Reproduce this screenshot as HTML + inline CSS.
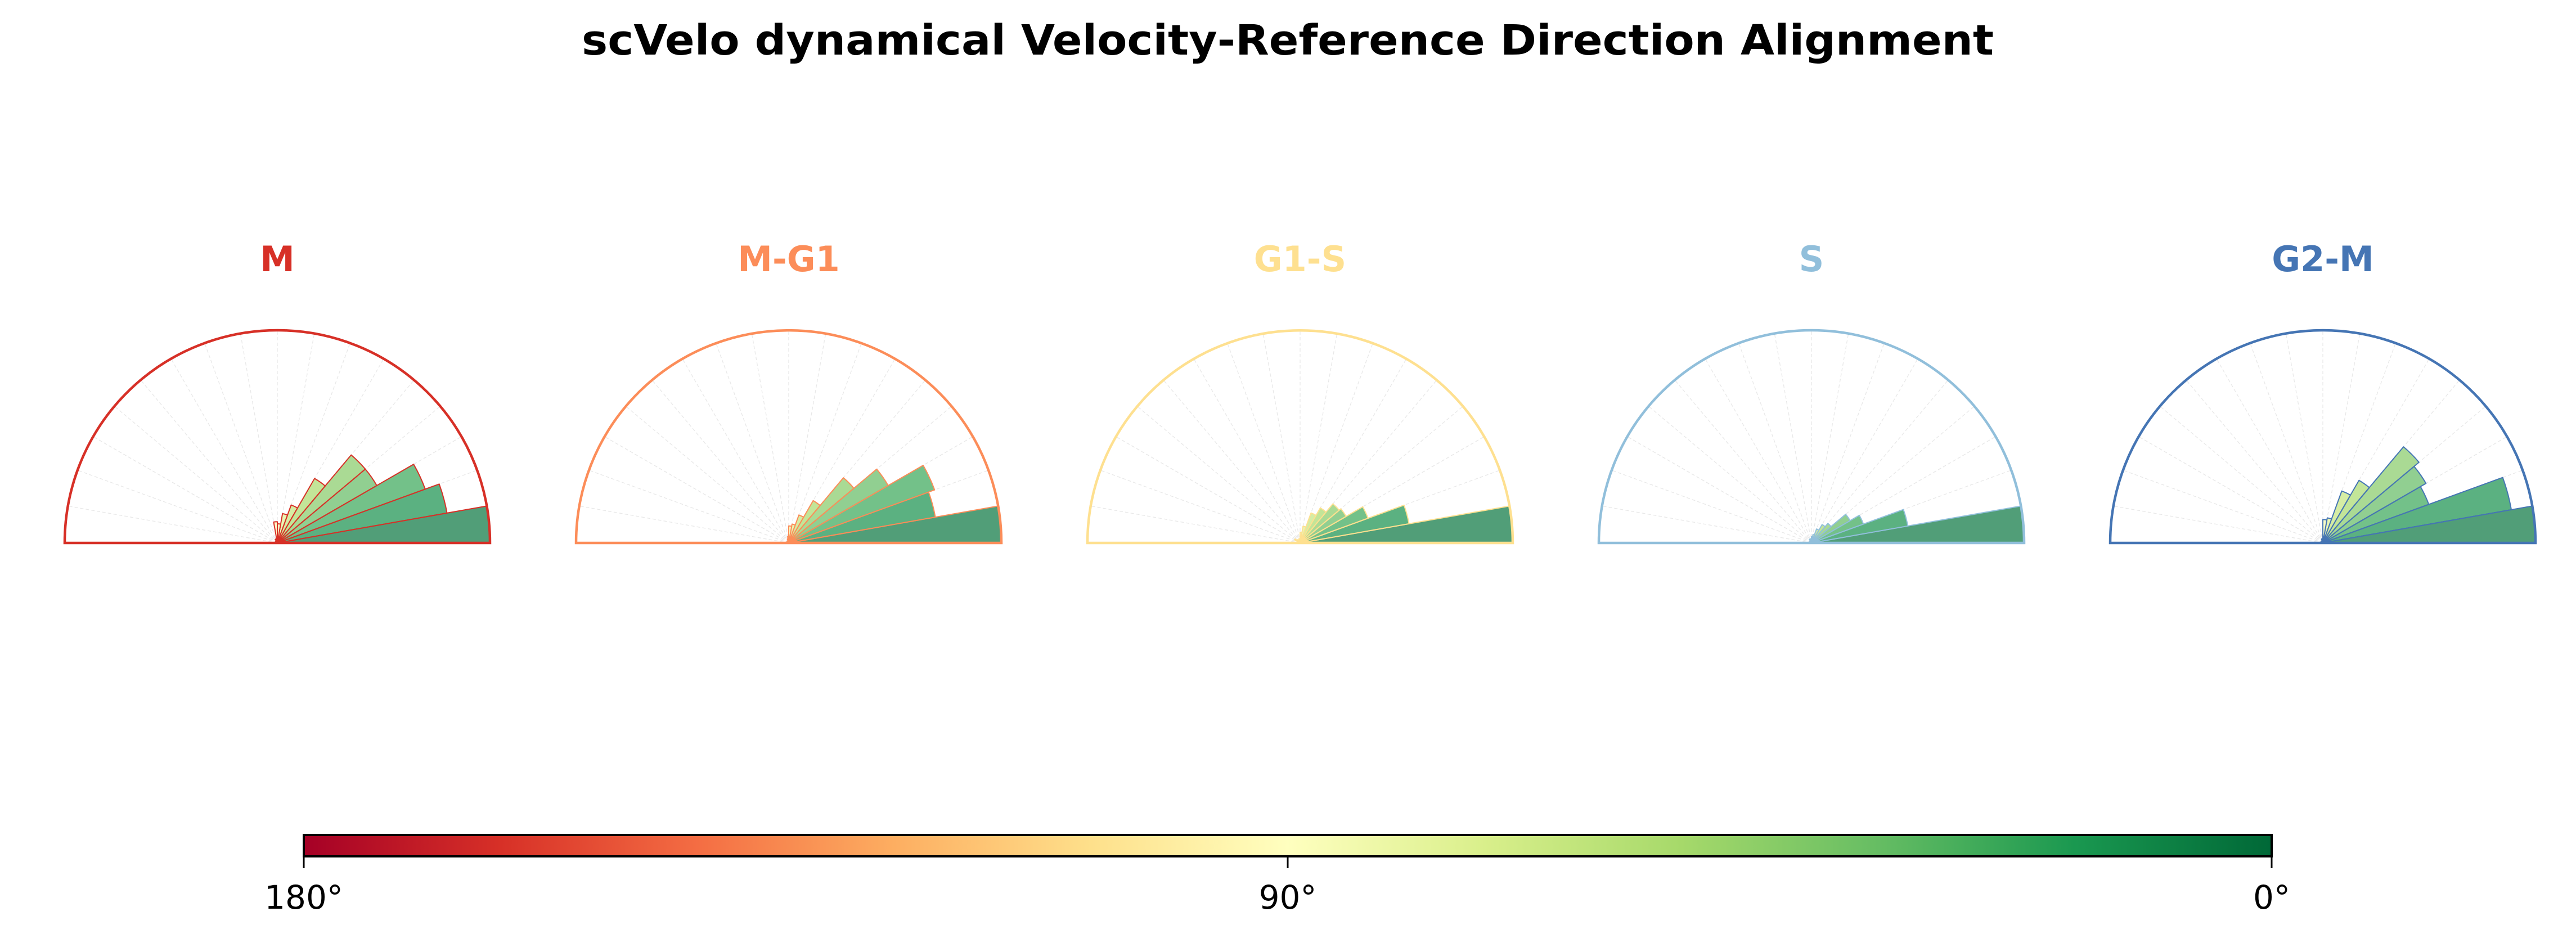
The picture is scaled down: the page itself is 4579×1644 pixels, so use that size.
<!DOCTYPE html>
<html><head><meta charset="utf-8"><style>
html,body{margin:0;padding:0;background:#fff;}
svg{display:block;font-family:"DejaVu Sans","Liberation Sans",sans-serif;}
</style></head><body>
<svg id="chart" width="4579" height="1644" viewBox="0 0 4579 1644" xmlns="http://www.w3.org/2000/svg">
<defs>
<linearGradient id="cbgrad" x1="0" x2="1" y1="0" y2="0">
<stop offset="0" stop-color="#a50026"/><stop offset="0.1" stop-color="#d73027"/><stop offset="0.2" stop-color="#f46d43"/><stop offset="0.3" stop-color="#fdae61"/><stop offset="0.4" stop-color="#fee08b"/><stop offset="0.5" stop-color="#ffffbf"/><stop offset="0.6" stop-color="#d9ef8b"/><stop offset="0.7" stop-color="#a6d96a"/><stop offset="0.8" stop-color="#66bd63"/><stop offset="0.9" stop-color="#1a9850"/><stop offset="1" stop-color="#006837"/>
</linearGradient>
</defs>
<text x="2289" y="97" text-anchor="middle" font-size="74" font-weight="bold" textLength="2510" lengthAdjust="spacingAndGlyphs">scVelo dynamical Velocity-Reference Direction Alignment</text>
<g id="panels"></g>
<g>
<rect x="540" y="1484" width="3498" height="38" fill="url(#cbgrad)" stroke="#000" stroke-width="4"/>
<line x1="540" y1="1522" x2="540" y2="1543" stroke="#000" stroke-width="3"/>
<line x1="2289" y1="1522" x2="2289" y2="1543" stroke="#000" stroke-width="3"/>
<line x1="4038" y1="1522" x2="4038" y2="1543" stroke="#000" stroke-width="3"/>
<text x="540" y="1615" text-anchor="middle" font-size="58">180°</text>
<text x="2289" y="1615" text-anchor="middle" font-size="58">90°</text>
<text x="4038" y="1615" text-anchor="middle" font-size="58">0°</text>
</g>
</svg>
<script>
const phases = ["M", "M-G1", "G1-S", "S", "G2-M"];
const phaseColors = ["#d73027", "#fc8d59", "#fee090", "#91bfdb", "#4575b4"];
const binEdgesDeg = [0,10,20,30,40,50,60,70,80,90,100,110,120,130,140,150,160,170,180];
const valuesM   = [1.00,0.81,0.74,0.54,0.54,0.35,0.19,0.14,0.09,0.10,0.02,0.02,0.01,0.01,0.01,0.01,0.01,0.01];
const valuesMG1 = [1.00,0.70,0.73,0.54,0.40,0.23,0.14,0.09,0.08,0.03,0.02,0.01,0.01,0.01,0.01,0.01,0.01,0.01];
const valuesG1S = [1.00,0.52,0.34,0.25,0.24,0.19,0.15,0.08,0.05,0.02,0.02,0.01,0.01,0.02,0.03,0.01,0.01,0.01];
const valuesS   = [1.00,0.46,0.26,0.21,0.12,0.10,0.07,0.04,0.03,0.02,0.02,0.02,0.01,0.01,0.01,0.01,0.01,0.01];
const valuesG2M = [1.00,0.90,0.53,0.56,0.59,0.34,0.26,0.12,0.11,0.02,0.02,0.01,0.01,0.01,0.01,0.01,0.01,0.01];
const allValues = [valuesM, valuesMG1, valuesG1S, valuesS, valuesG2M];

const NS = "http://www.w3.org/2000/svg";
const cmapStops = ["#a50026","#d73027","#f46d43","#fdae61","#fee08b","#ffffbf","#d9ef8b","#a6d96a","#66bd63","#1a9850","#006837"];
function hex(c){return [parseInt(c.substr(1,2),16),parseInt(c.substr(3,2),16),parseInt(c.substr(5,2),16)];}
function rdylgn(t){
  t=Math.max(0,Math.min(1,t));const p=t*10;const i=Math.min(9,Math.floor(p));const f=p-i;
  const a=hex(cmapStops[i]),b=hex(cmapStops[i+1]);
  return "rgb("+a.map((v,k)=>Math.round(v+(b[k]-v)*f)).join(",")+")";
}
const firstCx = 493, spacing = 909, cy = 965, R = 378;
function px(cx, deg, r){return cx + r*Math.cos(deg*Math.PI/180);}
function py(deg, r){return cy - r*Math.sin(deg*Math.PI/180);}
const root = document.getElementById("panels");
phases.forEach((ph, pi) => {
  const cx = firstCx + pi*spacing;
  const col = phaseColors[pi];
  const g = document.createElementNS(NS,"g");
  
  
  root.appendChild(g);
  for (let a = 10; a < 180; a += 10) {
    const l = document.createElementNS(NS,"line");
    l.setAttribute("x1",cx);l.setAttribute("y1",cy);
    l.setAttribute("x2",px(cx,a,R));l.setAttribute("y2",py(a,R));
    l.setAttribute("stroke","#e8e8e8");l.setAttribute("stroke-width","1.3");l.setAttribute("stroke-dasharray","6,4");
    
    
    g.appendChild(l);
  }
  const vals = allValues[pi];
  vals.forEach((v, i) => {
    const a0 = binEdgesDeg[i], a1 = binEdgesDeg[i+1];
    const r = v*R;
    const d = "M"+cx+","+cy+" L"+px(cx,a0,r)+","+py(a0,r)+" A"+r+","+r+" 0 0 0 "+px(cx,a1,r)+","+py(a1,r)+" Z";
    const p = document.createElementNS(NS,"path");
    p.setAttribute("d",d);
    p.setAttribute("fill",rdylgn(1-((a0+a1)/2)/180));
    p.setAttribute("fill-opacity","0.7");
    p.setAttribute("stroke",col);p.setAttribute("stroke-width","2");p.setAttribute("stroke-linejoin","round");
    
    
    g.appendChild(p);
  });
  const f = document.createElementNS(NS,"path");
  f.setAttribute("d","M"+(cx-R)+","+cy+" A"+R+","+R+" 0 0 1 "+(cx+R)+","+cy+" Z");
  f.setAttribute("fill","none");f.setAttribute("stroke",col);f.setAttribute("stroke-width","4.5");
  
  
  g.appendChild(f);
  const t = document.createElementNS(NS,"text");
  t.setAttribute("x",cx);t.setAttribute("y",482);t.setAttribute("text-anchor","middle");
  t.setAttribute("font-size","62");t.setAttribute("font-weight","bold");t.setAttribute("fill",col);
  t.textContent = ph;
  
  
  g.appendChild(t);
});
</script>
</body></html>
